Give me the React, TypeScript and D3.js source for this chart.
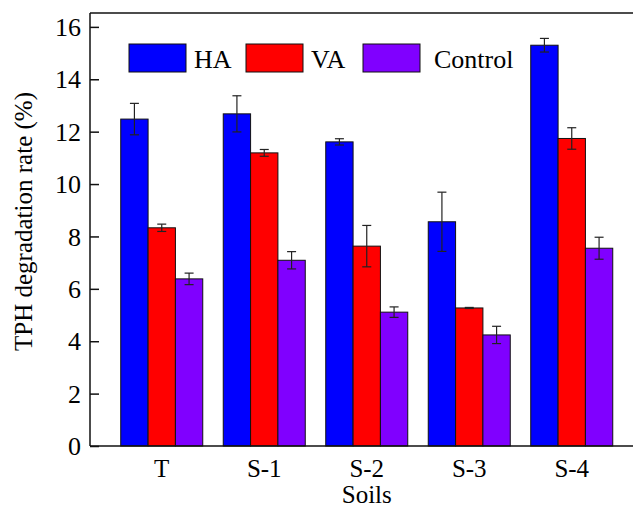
import { useEffect, useRef } from 'react';
import * as d3 from 'd3';

const soils = ['T', 'S-1', 'S-2', 'S-3', 'S-4'];
const seriesNames = ['HA', 'VA', 'Control'];
const seriesColors = ['#0000ff', '#ff0000', '#8000ff'];

const haValues = [12.48, 12.68, 11.61, 8.56, 15.3];
const haErrors = [0.6, 0.69, 0.12, 1.13, 0.26];
const vaValues = [8.33, 11.19, 7.63, 5.27, 11.74];
const vaErrors = [0.14, 0.13, 0.79, 0.02, 0.41];
const controlValues = [6.38, 7.09, 5.11, 4.24, 7.55];
const controlErrors = [0.22, 0.33, 0.2, 0.33, 0.42];

const yTicks = [0, 2, 4, 6, 8, 10, 12, 14, 16];

const App: React.FC = () => {
  const svgRef = useRef<SVGSVGElement | null>(null);

  useEffect(() => {
    if (!svgRef.current) return;
    const width = 633;
    const height = 509;
    const left = 90;
    const top = 13;
    const bottom = 446;
    const font = "'Times New Roman', 'Liberation Serif', Times, serif";

    const svg = d3.select(svgRef.current);
    svg.selectAll('*').remove();
    svg.attr('width', width).attr('height', height).style('font-family', font);

    const values = [haValues, vaValues, controlValues];
    const errors = [haErrors, vaErrors, controlErrors];

    // plot area runs past the right edge of the picture
    const x = d3
      .scaleBand<string>()
      .domain(soils)
      .range([left, 643.5])
      .paddingInner(0.2)
      .paddingOuter(0.3);

    const xSub = d3
      .scaleBand<string>()
      .domain(seriesNames)
      .range([0, x.bandwidth()]);

    const y = d3.scaleLinear().domain([0, 16.53]).range([bottom, top]);

    // bars
    seriesNames.forEach((name, si) => {
      const g = svg.append('g');
      soils.forEach((s, i) => {
        const v = values[si][i];
        g.append('rect')
          .attr('x', x(s)! + xSub(name)!)
          .attr('y', y(v))
          .attr('width', xSub.bandwidth())
          .attr('height', y(0) - y(v))
          .attr('fill', seriesColors[si])
          .attr('stroke', '#111')
          .attr('stroke-width', 1);
      });
    });

    // error bars
    seriesNames.forEach((name, si) => {
      const g = svg.append('g').attr('stroke', '#222').attr('stroke-width', 1.2);
      soils.forEach((s, i) => {
        const cx = x(s)! + xSub(name)! + xSub.bandwidth() / 2;
        const v = values[si][i];
        const e = errors[si][i];
        g.append('line').attr('x1', cx).attr('x2', cx).attr('y1', y(v + e)).attr('y2', y(v - e));
        g.append('line').attr('x1', cx - 4.5).attr('x2', cx + 4.5).attr('y1', y(v + e)).attr('y2', y(v + e));
        g.append('line').attr('x1', cx - 4.5).attr('x2', cx + 4.5).attr('y1', y(v - e)).attr('y2', y(v - e));
      });
    });

    // frame
    const frame = svg.append('g').attr('stroke', '#111').attr('stroke-width', 1.5);
    frame.append('line').attr('x1', left).attr('x2', width + 5).attr('y1', top).attr('y2', top);
    frame.append('line').attr('x1', left).attr('x2', width + 5).attr('y1', bottom).attr('y2', bottom);
    frame.append('line').attr('x1', left).attr('x2', left).attr('y1', top).attr('y2', bottom);

    // y axis ticks (inward)
    const yAxis = svg
      .append('g')
      .attr('transform', `translate(${left},0)`)
      .call(d3.axisRight(y).tickValues(yTicks).tickSize(9).tickFormat(() => ''));
    yAxis.select('.domain').remove();
    yAxis.selectAll('line').attr('stroke', '#111').attr('stroke-width', 1.5);

    svg
      .append('g')
      .selectAll('text')
      .data(yTicks)
      .join('text')
      .attr('x', left - 9)
      .attr('y', (d) => y(d))
      .attr('dy', '0.35em')
      .attr('text-anchor', 'end')
      .attr('font-size', 26)
      .text((d) => d);

    svg
      .append('g')
      .selectAll('text')
      .data(soils)
      .join('text')
      .attr('x', (d) => x(d)! + x.bandwidth() / 2)
      .attr('y', 477)
      .attr('text-anchor', 'middle')
      .attr('font-size', 25)
      .text((d) => d);

    svg
      .append('text')
      .attr('x', x('S-2')! + x.bandwidth() / 2)
      .attr('y', 502.5)
      .attr('text-anchor', 'middle')
      .attr('font-size', 25)
      .text('Soils');

    svg
      .append('text')
      .attr('transform', 'translate(32,221.5) rotate(-90)')
      .attr('text-anchor', 'middle')
      .attr('font-size', 25)
      .text('TPH degradation rate (%)');

    // legend
    const legendX = [129, 246, 363];
    const legend = svg.append('g');
    seriesNames.forEach((name, si) => {
      legend
        .append('rect')
        .attr('x', legendX[si])
        .attr('y', 44)
        .attr('width', 57)
        .attr('height', 28)
        .attr('fill', seriesColors[si])
        .attr('stroke', '#111')
        .attr('stroke-width', 1);
      legend
        .append('text')
        .attr('x', legendX[si] + 57 + (si === 2 ? 14 : 8))
        .attr('y', 67.5)
        .attr('font-size', 26)
        .text(name);
    });
  }, []);

  return (
    <div style={{ position: 'fixed', left: 0, top: 0, background: '#fff' }}>
      <svg ref={svgRef}></svg>
    </div>
  );
};

export default App;
